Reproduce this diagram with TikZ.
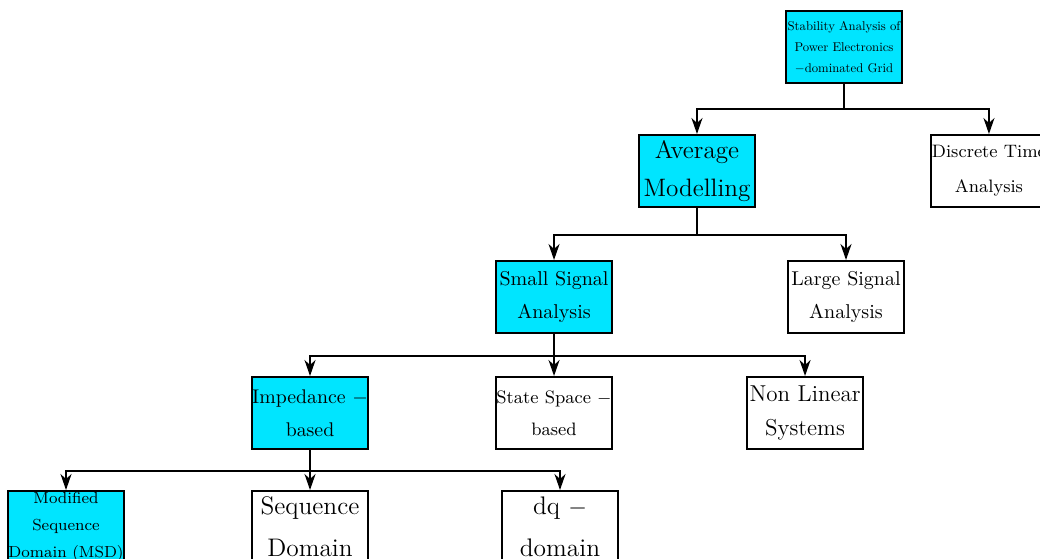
\documentclass[tikz,border=0pt]{standalone}
\usepackage{tikz}
\usetikzlibrary{positioning, arrows.meta}
\definecolor{hlcyan}{RGB}{0,229,255}
\tikzstyle{block}=[draw,fill=white,rectangle,line width=1pt,minimum width=2.04cm,minimum height=1.265cm,inner sep=0pt,align=center]
\tikzstyle{hot}=[fill=hlcyan]
\tikzstyle{link}=[draw,line width=0.95pt,-{Stealth[length=8pt,width=5.5pt,inset=2.5pt]}]
\newcommand{\fs}[2]{\fontsize{#1}{#2}\selectfont}
\newcommand{\shrunk}[1]{\scalebox{0.635}{\fs{10}{16.5}\begin{tabular}{@{}c@{}}#1\end{tabular}}}

\begin{document}
\begin{tikzpicture}[auto,>=latex]
            \useasboundingbox (0,0) rectangle (18.276,-9.823);
            \node[block, hot] (root) at (14.832,-0.826) {\shrunk{Stability Analysis of\\Power Electronics\\$-$dominated Grid}};
            \node[block, hot, font=\fs{12.6}{19}] (avg) at (12.248,-3.005) {Average\\Modelling};
            \node[block, right of=avg, node distance=5.131cm, font=\fs{9}{17.5}] (dta) {Discrete Time\\Analysis};
            \node[block, hot, font=\fs{10}{16.5}] (ssa) at (9.736,-5.219) {Small Signal\\Analysis};
            \node[block, right of=ssa, node distance=5.131cm, font=\fs{10}{16.5}] (lsa) {Large Signal\\Analysis};
            \node[block, hot, font=\fs{9.9}{16.5}] (imp) at (5.448,-7.258) {Impedance $-$\\based};
            \node[block, below of=ssa, node distance=2.039cm, font=\fs{9}{16}] (ssb) {State Space $-$\\based};
            \node[block, right of=ssb, node distance=4.411cm, font=\fs{11.5}{17}] (nls) {Non Linear\\Systems};
            \node[block, below of=imp, node distance=2.003cm, font=\fs{12.7}{21}] (seq) {Sequence\\Domain};
            \node[block, hot, left of=seq, node distance=4.288cm, font=\fs{8}{13.5}] (msd) {Modified\\Sequence\\Domain (MSD)};
            \node[block, right of=seq, node distance=4.393cm, font=\fs{12.7}{21}] (dqd) {dq $-$\\domain};
            \draw[link] (root.south) -- ++(0,-0.44) -| (avg);
            \draw[link] (root.south) -- ++(0,-0.44) -| (dta);
            \draw[link] (avg.south) -- ++(0,-0.48) -| (ssa);
            \draw[link] (avg.south) -- ++(0,-0.48) -| (lsa);
            \draw[link] (ssa.south) -- ++(0,-0.39) -| (imp);
            \draw[link] (ssa.south) -- (ssb);
            \draw[link] (ssa.south) -- ++(0,-0.39) -| (nls);
            \draw[link] (imp.south) -- ++(0,-0.37) -| (msd);
            \draw[link] (imp.south) -- (seq);
            \draw[link] (imp.south) -- ++(0,-0.37) -| (dqd);
        \end{tikzpicture}
\end{document}
